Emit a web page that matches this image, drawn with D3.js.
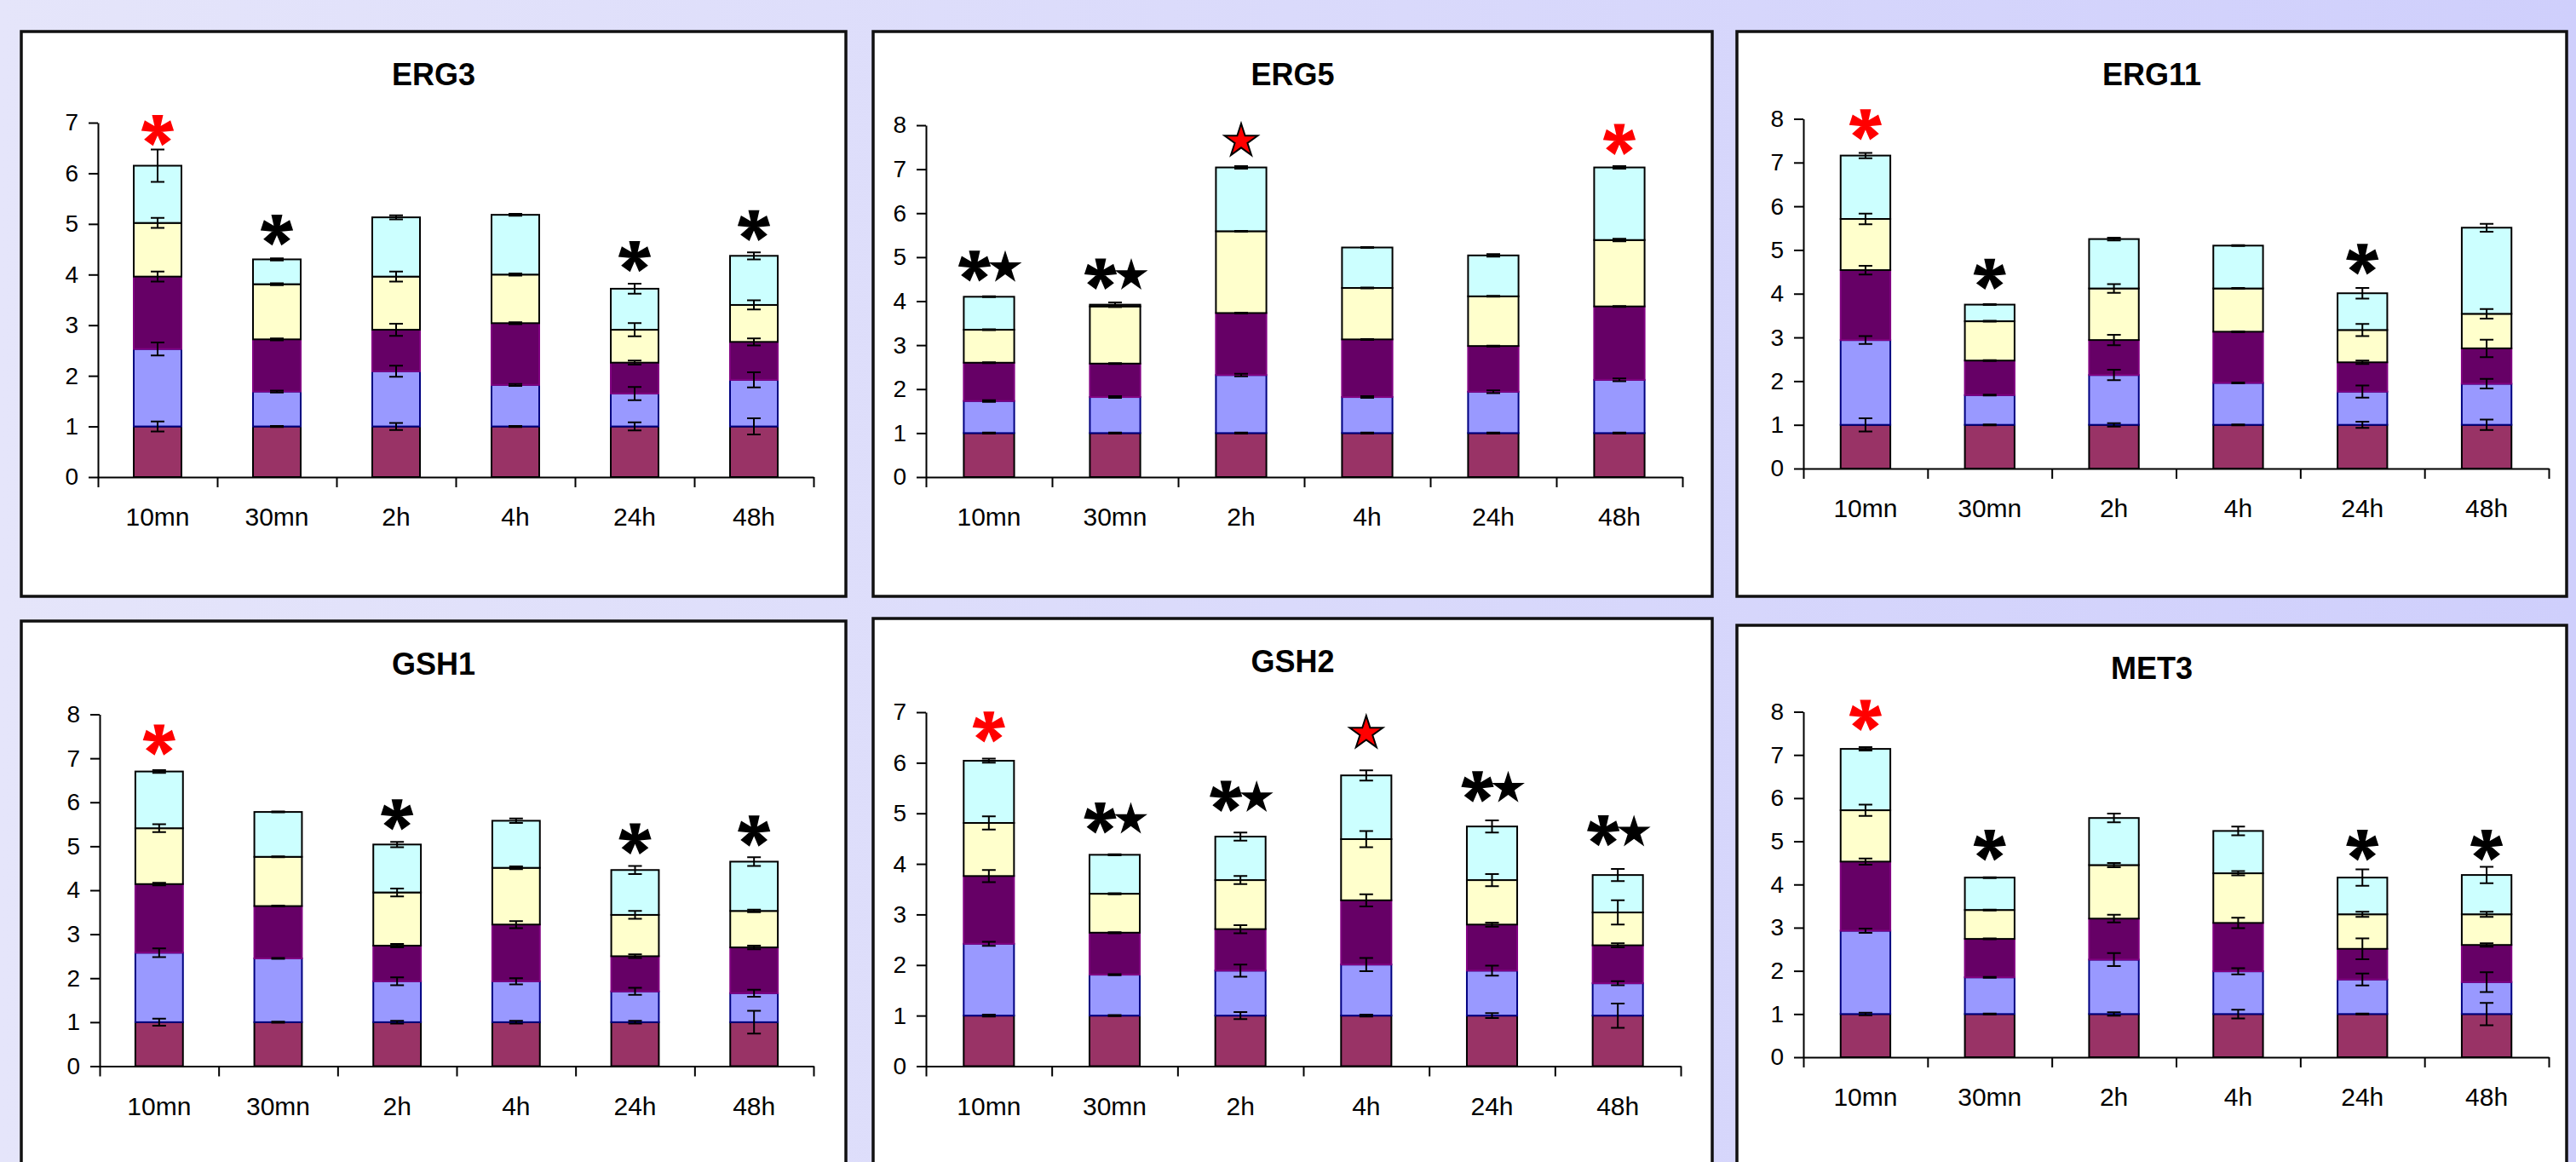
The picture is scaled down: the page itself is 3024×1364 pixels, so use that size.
<!DOCTYPE html>
<html>
<head>
<meta charset="utf-8">
<script src="https://cdn.jsdelivr.net/npm/d3@7"></script>
<style>
  body { margin: 0; overflow: hidden; }
  svg { display: block; font-family: "Liberation Sans", Arial, sans-serif; }
</style>
</head>
<body>
<script>
// time points and genes
var categories = ["10mn", "30mn", "2h", "4h", "24h", "48h"];
var genes = ["ERG3", "ERG5", "ERG11", "GSH1", "GSH2", "MET3"];
var yMax = [7, 8, 8, 8, 7, 8];

// 5 stacked series, bottom to top
var seriesColors = ["#993366", "#9999ff", "#660066", "#ffffcc", "#ccffff"];
var seriesStroke = ["#000000", "#000080", "#800080", "#000000", "#000000"];

// segment heights: one row per series, one column per time point
var erg3Values = [
  [1, 1, 1, 1, 1, 1],
  [1.53, 0.69, 1.09, 0.82, 0.65, 0.92],
  [1.43, 1.03, 0.82, 1.22, 0.61, 0.75],
  [1.06, 1.09, 1.05, 0.96, 0.65, 0.73],
  [1.13, 0.49, 1.17, 1.18, 0.81, 0.97]
];
var erg3Errors = [
  [0.1, 0.01, 0.07, 0.01, 0.08, 0.16],
  [0.13, 0.02, 0.11, 0.02, 0.13, 0.15],
  [0.1, 0.02, 0.12, 0.02, 0.04, 0.07],
  [0.1, 0.02, 0.1, 0.02, 0.13, 0.09],
  [0.32, 0.02, 0.04, 0.02, 0.1, 0.07]
];
var erg3Marks = ["red*", "*", "", "", "*", "*"];
var erg3MarkY = [6.85, 4.88, 0, 0, 4.36, 4.97];

var erg5Values = [
  [1, 1, 1, 1, 1, 1],
  [0.73, 0.82, 1.32, 0.82, 0.94, 1.21],
  [0.87, 0.76, 1.41, 1.31, 1.04, 1.67],
  [0.75, 1.3, 1.86, 1.17, 1.13, 1.51],
  [0.75, 0.04, 1.45, 0.92, 0.93, 1.65]
];
var erg5Errors = [
  [0.01, 0.01, 0.01, 0.01, 0.01, 0.01],
  [0.02, 0.02, 0.03, 0.02, 0.03, 0.03],
  [0.01, 0.01, 0.01, 0.01, 0.01, 0.01],
  [0.01, 0.01, 0.01, 0.01, 0.01, 0.03],
  [0.01, 0.05, 0.03, 0.01, 0.03, 0.03]
];
var erg5Marks = ["*★", "*★", "red★", "", "", "red*"];
var erg5MarkY = [4.8, 4.62, 7.68, 0, 0, 7.68];

var erg11Values = [
  [1, 1, 1, 1, 1, 1],
  [1.94, 0.68, 1.14, 0.96, 0.76, 0.94],
  [1.6, 0.79, 0.8, 1.17, 0.67, 0.81],
  [1.17, 0.9, 1.18, 0.99, 0.74, 0.79],
  [1.45, 0.38, 1.13, 0.98, 0.84, 1.97]
];
var erg11Errors = [
  [0.15, 0.01, 0.04, 0.01, 0.07, 0.12],
  [0.09, 0.01, 0.12, 0.01, 0.14, 0.11],
  [0.1, 0.01, 0.12, 0.01, 0.04, 0.2],
  [0.12, 0.01, 0.1, 0.01, 0.14, 0.11],
  [0.06, 0.01, 0.03, 0.01, 0.12, 0.09]
];
var erg11Marks = ["red*", "*", "", "", "*", ""];
var erg11MarkY = [7.87, 4.45, 0, 0, 4.79, 0];

var gsh1Values = [
  [1, 1, 1, 1, 1, 1],
  [1.58, 1.45, 0.93, 0.93, 0.7, 0.66],
  [1.56, 1.19, 0.81, 1.29, 0.8, 1.04],
  [1.27, 1.12, 1.21, 1.29, 0.94, 0.83],
  [1.29, 1.02, 1.09, 1.07, 1.02, 1.12]
];
var gsh1Errors = [
  [0.08, 0.01, 0.03, 0.03, 0.03, 0.26],
  [0.1, 0.01, 0.09, 0.07, 0.08, 0.08],
  [0.03, 0.01, 0.04, 0.08, 0.04, 0.04],
  [0.09, 0.01, 0.09, 0.03, 0.09, 0.03],
  [0.03, 0.01, 0.06, 0.05, 0.09, 0.1]
];
var gsh1Marks = ["red*", "", "*", "", "*", "*"];
var gsh1MarkY = [7.42, 0, 5.72, 0, 5.17, 5.35];

var gsh2Values = [
  [1, 1, 1, 1, 1, 1],
  [1.42, 0.81, 0.89, 1.01, 0.89, 0.64],
  [1.34, 0.83, 0.82, 1.27, 0.91, 0.75],
  [1.05, 0.77, 0.97, 1.21, 0.88, 0.65],
  [1.23, 0.77, 0.86, 1.26, 1.06, 0.74]
];
var gsh2Errors = [
  [0.02, 0.01, 0.07, 0.02, 0.05, 0.24],
  [0.04, 0.01, 0.12, 0.13, 0.1, 0.04],
  [0.12, 0.01, 0.08, 0.12, 0.04, 0.04],
  [0.13, 0.01, 0.08, 0.16, 0.12, 0.24],
  [0.04, 0.01, 0.08, 0.1, 0.12, 0.12]
];
var gsh2Marks = ["red*", "*★", "*★", "red★", "*★", "*★"];
var gsh2MarkY = [6.71, 4.91, 5.34, 6.62, 5.53, 4.66];

var met3Values = [
  [1, 1, 1, 1, 1, 1],
  [1.93, 0.85, 1.26, 0.99, 0.8, 0.74],
  [1.6, 0.89, 0.95, 1.12, 0.71, 0.86],
  [1.19, 0.67, 1.24, 1.15, 0.8, 0.71],
  [1.42, 0.75, 1.09, 0.98, 0.85, 0.91]
];
var met3Errors = [
  [0.03, 0.01, 0.04, 0.1, 0.01, 0.26],
  [0.05, 0.01, 0.15, 0.07, 0.14, 0.23],
  [0.07, 0.01, 0.09, 0.12, 0.24, 0.04],
  [0.13, 0.01, 0.05, 0.05, 0.06, 0.06],
  [0.04, 0.01, 0.1, 0.1, 0.19, 0.19]
];
var met3Marks = ["red*", "*", "", "", "*", "*"];
var met3MarkY = [7.92, 4.91, 0, 0, 4.91, 4.91];

// layout of the 6 panels (pixels): box [x0,y0,x1,y1], plot [left,right,top,bottom]
var panelBox = [[25, 37, 993, 700], [1025, 37, 2010, 700], [2039, 37, 3013, 700],
                [25, 729, 993, 1420], [1025, 726, 2010, 1420], [2039, 734, 3013, 1420]];
var plotArea = [[115, 955, 144, 560], [1087, 1975, 147, 560], [2117, 2992, 139.5, 550],
                [117, 955, 838.5, 1251.5], [1087, 1973, 836, 1251.5], [2117, 2992, 835.5, 1241]];

var allValues = [erg3Values, erg5Values, erg11Values, gsh1Values, gsh2Values, met3Values];
var allErrors = [erg3Errors, erg5Errors, erg11Errors, gsh1Errors, gsh2Errors, met3Errors];
var allMarks = [erg3Marks, erg5Marks, erg11Marks, gsh1Marks, gsh2Marks, met3Marks];
var allMarkY = [erg3MarkY, erg5MarkY, erg11MarkY, gsh1MarkY, gsh2MarkY, met3MarkY];

var svg = d3.select("body")
    .append("svg")
    .attr("width", 3024)
    .attr("height", 1364);

// lavender background, a bit lighter on the left
var grad = svg.append("defs").append("linearGradient")
    .attr("id", "bg").attr("x1", 0).attr("x2", 1).attr("y1", 0).attr("y2", 0);
grad.append("stop").attr("offset", "0%").attr("stop-color", "#e5e5fa");
grad.append("stop").attr("offset", "100%").attr("stop-color", "#cfcffc");
svg.append("rect").attr("width", 3024).attr("height", 1364).attr("fill", "url(#bg)");

// bold 5-armed asterisk, like the Arial one
var asteriskPath = function (len, baseHalf, tipHalf) {
    var p = d3.path();
    for (var a = 0; a < 5; a++) {
        var ang = -Math.PI / 2 + a * 2 * Math.PI / 5;
        var c = Math.cos(ang), s = Math.sin(ang);
        var px = -s, py = c;
        p.moveTo(-px * baseHalf, -py * baseHalf);
        p.lineTo(c * len - px * tipHalf, s * len - py * tipHalf);
        p.lineTo(c * len + px * tipHalf, s * len + py * tipHalf);
        p.lineTo(px * baseHalf, py * baseHalf);
        p.closePath();
    }
    p.moveTo(5, 0);
    p.arc(0, 0, 5, 0, 2 * Math.PI, false);
    return p.toString();
};
var star = d3.symbol().type(d3.symbolStar).size(470);

genes.forEach(function (name, i) {
    var box = panelBox[i], area = plotArea[i];
    var values = allValues[i], errors = allErrors[i];
    var g = svg.append("g");

    g.append("rect")
        .attr("x", box[0]).attr("y", box[1])
        .attr("width", box[2] - box[0]).attr("height", box[3] - box[1])
        .attr("fill", "#fff")
        .attr("stroke", "#111")
        .attr("stroke-width", 3.5);

    g.append("text")
        .attr("x", (box[0] + box[2]) / 2)
        .attr("y", box[1] + 63)
        .attr("text-anchor", "middle")
        .attr("font-weight", "bold")
        .attr("font-size", "36px")
        .text(name);

    var x = d3.scaleBand().domain(categories)
        .range([area[0], area[1]])
        .paddingInner(0.6).paddingOuter(0.3);
    var y = d3.scaleLinear().domain([0, yMax[i]]).range([area[3], area[2]]);

    var rows = categories.map(function (c, j) {
        var r = { cat: c };
        values.forEach(function (s, k) { r[k] = s[j]; });
        return r;
    });
    var stacked = d3.stack().keys(d3.range(values.length))(rows);

    // stacked bars
    g.selectAll("g.series")
        .data(stacked)
        .enter().append("g")
        .attr("class", "series")
        .attr("fill", function (d, k) { return seriesColors[k]; })
        .attr("stroke", function (d, k) { return seriesStroke[k]; })
        .attr("stroke-width", 2)
        .selectAll("rect")
        .data(function (d) { return d; })
        .enter().append("rect")
        .attr("x", function (d) { return x(d.data.cat); })
        .attr("y", function (d) { return y(d[1]); })
        .attr("width", x.bandwidth())
        .attr("height", function (d) { return y(d[0]) - y(d[1]); });

    // error bars on top of each segment
    var eb = [];
    stacked.forEach(function (s, k) {
        s.forEach(function (d, j) {
            eb.push({ cx: x(d.data.cat) + x.bandwidth() / 2, top: d[1], e: errors[k][j] });
        });
    });
    var ebg = g.append("g").attr("stroke", "#000").attr("stroke-width", 2);
    ebg.selectAll("path")
        .data(eb)
        .enter().append("path")
        .attr("fill", "none")
        .attr("d", function (d) {
            var y1 = y(d.top + d.e), y2 = y(d.top - d.e);
            return "M" + d.cx + "," + y1 + "V" + y2 +
                "M" + (d.cx - 8) + "," + y1 + "H" + (d.cx + 8) +
                "M" + (d.cx - 8) + "," + y2 + "H" + (d.cx + 8);
        });

    // y axis
    g.append("g")
        .attr("transform", "translate(" + area[0] + ",0)")
        .call(d3.axisLeft(y)
            .tickValues(d3.range(0, yMax[i] + 1))
            .tickFormat(d3.format("d"))
            .tickSize(11).tickSizeOuter(0).tickPadding(12))
        .call(function (a) {
            a.attr("font-family", null).attr("font-size", null);
            a.selectAll("text").attr("font-size", "28px").attr("fill", "#000");
            a.selectAll("line,path").attr("stroke", "#000").attr("stroke-width", 2);
        });

    // x axis: ticks between categories
    var xb = d3.scaleLinear().domain([0, categories.length]).range([area[0], area[1]]);
    g.append("g")
        .attr("transform", "translate(0," + area[3] + ")")
        .call(d3.axisBottom(xb)
            .tickValues(d3.range(0, categories.length + 1))
            .tickFormat("")
            .tickSize(12).tickSizeOuter(0))
        .call(function (a) {
            a.selectAll("line,path").attr("stroke", "#000").attr("stroke-width", 2);
        });

    g.append("g")
        .attr("transform", "translate(0," + area[3] + ")")
        .call(d3.axisBottom(x).tickSize(0).tickPadding(36))
        .call(function (a) {
            a.attr("font-family", null).attr("font-size", null);
            a.select(".domain").remove();
            a.selectAll("text").attr("font-size", "30px").attr("fill", "#000");
        });

    // significance marks
    var marks = allMarks[i], markY = allMarkY[i];
    categories.forEach(function (c, j) {
        var m = marks[j];
        if (!m) return;
        var cx = x(c) + x.bandwidth() / 2, cy = y(markY[j]);
        if (m === "red*" || m === "*") {
            g.append("path")
                .attr("d", asteriskPath(18, 2.5, 6.5))
                .attr("transform", "translate(" + cx + "," + cy + ")")
                .attr("fill", m === "red*" ? "#ff0000" : "#000");
        } else if (m === "*★") {
            g.append("path")
                .attr("d", asteriskPath(18, 2.5, 6.5))
                .attr("transform", "translate(" + (cx - 17) + "," + cy + ")")
                .attr("fill", "#000");
            g.append("path")
                .attr("d", star())
                .attr("transform", "translate(" + (cx + 19) + "," + (cy + 2) + ")")
                .attr("fill", "#000");
        } else if (m === "red★") {
            g.append("path")
                .attr("d", star())
                .attr("transform", "translate(" + cx + "," + (cy + 2) + ")")
                .attr("fill", "#ff0000")
                .attr("stroke", "#000")
                .attr("stroke-width", 2);
        }
    });
});
</script>
</body>
</html>
